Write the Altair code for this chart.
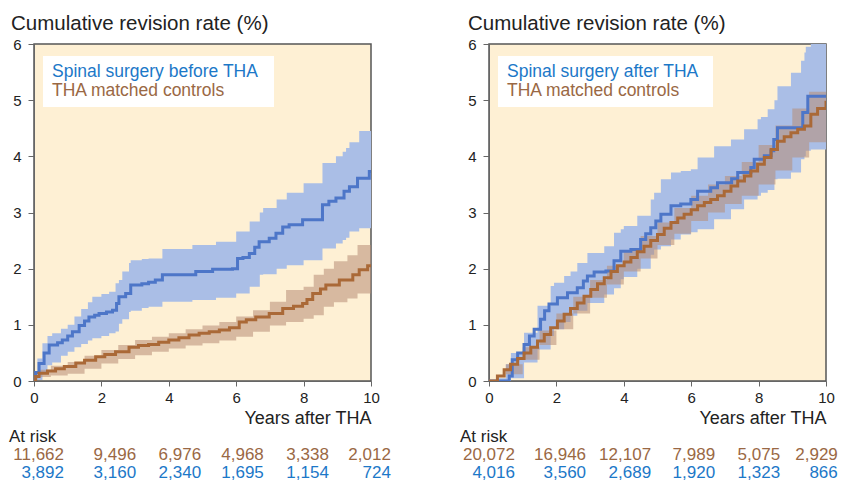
import altair as alt
import pandas as pd

FONT = "Liberation Sans"
BG = "#fef0d4"
BLUE_LINE = "#4d76c8"
BLUE_BAND = "#aabee6"
BROWN_LINE = "#aa6937"
BROWN_BAND = "#b78c75"
BLUE_TEXT = "#1c78c8"
BROWN_TEXT = "#9a6844"
DARK = "#222222"

years_tick = [0, 2, 4, 6, 8, 10]

# ---------------- Left panel: spinal surgery before THA ----------------
L_blue_x = [0, 0.05, 0.15, 0.3, 0.45, 0.7, 0.84, 1.0, 1.14, 1.34, 1.5, 1.63, 1.8, 1.93, 2.15, 2.33,
            2.45, 2.52, 2.72, 2.87, 3.2, 3.4, 3.6, 3.81, 4.6, 4.8, 5.3, 5.89, 6.04, 6.2, 6.39, 6.55,
            6.68, 6.98, 7.18, 7.38, 7.57, 7.97, 8.4, 8.56, 8.75, 8.96, 9.2, 9.36, 9.6, 9.95, 10]
L_blue_y = [0, 0.15, 0.31, 0.5, 0.64, 0.68, 0.73, 0.8, 0.875, 0.99, 1.07, 1.14, 1.17, 1.2, 1.23, 1.26,
            1.38, 1.5, 1.56, 1.71, 1.73, 1.76, 1.8, 1.89, 1.89, 1.95, 1.99, 2.0, 2.18, 2.2, 2.27, 2.38,
            2.48, 2.54, 2.63, 2.74, 2.78, 2.87, 2.87, 3.14, 3.2, 3.26, 3.38, 3.46, 3.61, 3.73, 3.73]

L_bband_x = [0, 0.1, 0.25, 0.4, 0.54, 0.8, 1.0, 1.2, 1.4, 1.6, 1.73, 2.0, 2.23, 2.42, 2.52, 2.62, 2.82,
             2.87, 3.2, 3.4, 3.81, 4.7, 5.4, 6.0, 6.4, 6.7, 6.8, 7.2, 7.5, 8.0, 8.56, 8.96, 9.16, 9.26,
             9.36, 9.65, 10]
L_bband_lo = [0, 0.02, 0.15, 0.28, 0.33, 0.45, 0.52, 0.6, 0.66, 0.72, 0.76, 0.8, 0.85, 0.88, 1.02, 1.1,
              1.23, 1.25, 1.3, 1.32, 1.41, 1.44, 1.48, 1.56, 1.68, 1.89, 1.9, 2.0, 2.06, 2.15, 2.36, 2.45,
              2.51, 2.55, 2.66, 2.72, 2.72]
L_bband_hi = [0, 0.4, 0.67, 0.8, 0.85, 0.93, 1.0, 1.15, 1.28, 1.4, 1.5, 1.55, 1.59, 1.74, 1.8, 1.95,
              2.1, 2.15, 2.17, 2.18, 2.35, 2.42, 2.48, 2.66, 2.84, 3.0, 3.08, 3.23, 3.35, 3.52, 3.88, 4.0,
              4.08, 4.15, 4.25, 4.45, 4.45]

L_brown_x = [0, 0.05, 0.15, 0.4, 0.64, 0.9, 1.24, 1.5, 1.83, 2.1, 2.42, 2.82, 3.1, 3.4, 3.7, 4.0, 4.3,
             4.6, 4.9, 5.2, 5.5, 5.8, 6.09, 6.3, 6.58, 6.98, 7.38, 7.7, 7.97, 8.1, 8.27, 8.5, 8.66,
             9.06, 9.46, 9.65, 9.9, 10]
L_brown_y = [0, 0.08, 0.14, 0.18, 0.22, 0.26, 0.32, 0.37, 0.43, 0.47, 0.52, 0.6, 0.63, 0.65, 0.69, 0.73,
             0.77, 0.82, 0.85, 0.875, 0.91, 0.95, 1.05, 1.09, 1.14, 1.2, 1.29, 1.33, 1.38, 1.45, 1.56,
             1.64, 1.71, 1.8, 1.89, 1.98, 2.05, 2.05]

L_rband_x = [0, 0.15, 0.5, 1.0, 1.5, 2.0, 2.5, 3.0, 3.5, 4.0, 4.5, 5.0, 5.5, 6.0, 6.5, 7.0, 7.48, 8.0,
             8.3, 8.6, 8.9, 9.3, 9.6, 10]
L_rband_lo = [0, 0.07, 0.1, 0.13, 0.22, 0.31, 0.39, 0.46, 0.52, 0.58, 0.63, 0.67, 0.72, 0.79, 0.875,
              0.99, 1.05, 1.11, 1.17, 1.32, 1.4, 1.47, 1.56, 1.65]
L_rband_hi = [0, 0.2, 0.27, 0.34, 0.45, 0.55, 0.64, 0.73, 0.79, 0.85, 0.92, 0.99, 1.05, 1.15, 1.26,
              1.41, 1.62, 1.68, 1.89, 2.0, 2.13, 2.24, 2.42, 2.42]

L_risk_brown = ["11,662", "9,496", "6,976", "4,968", "3,338", "2,012"]
L_risk_blue = ["3,892", "3,160", "2,340", "1,695", "1,154", "724"]

# ---------------- Right panel: spinal surgery after THA ----------------
R_blue_x = [0, 0.54, 0.6, 0.69, 0.85, 1.04, 1.2, 1.34, 1.53, 1.65, 1.78, 2.03, 2.33, 2.62, 2.8, 2.92,
            3.12, 3.47, 3.71, 3.91, 4.21, 4.5, 4.65, 4.8, 4.95, 5.1, 5.4, 5.69, 5.99, 6.19, 6.58, 6.78,
            7.08, 7.2, 7.38, 7.77, 7.87, 8.17, 8.37, 8.45, 8.56, 9.16, 9.31, 9.46, 10]
R_blue_y = [0, 0, 0.09, 0.38, 0.5, 0.65, 0.8, 0.92, 1.1, 1.25, 1.37, 1.48, 1.57, 1.66, 1.78, 1.87,
            1.94, 1.96, 2.14, 2.31, 2.34, 2.52, 2.62, 2.73, 2.85, 2.97, 3.12, 3.15, 3.23, 3.38, 3.44, 3.53,
            3.53, 3.6, 3.71, 3.8, 3.95, 4.01, 4.1, 4.3, 4.51, 4.51, 4.78, 5.07, 5.07]

R_bband_x = [0, 0.25, 0.5, 0.65, 1.04, 1.44, 1.83, 1.93, 2.23, 2.42, 2.62, 2.92, 3.42, 3.71, 3.91, 4.0,
             4.4, 4.8, 4.9, 5.1, 5.4, 5.69, 5.99, 6.19, 6.68, 7.18, 7.57, 7.97, 8.07, 8.27, 8.47, 8.56,
             8.96, 9.26, 9.36, 9.4, 9.55, 10]
R_bband_lo = [0, 0, 0, 0.05, 0.33, 0.56, 0.8, 0.92, 1.05, 1.16, 1.25, 1.39, 1.54, 1.65, 1.81, 1.85,
              2.0, 2.25, 2.34, 2.4, 2.52, 2.61, 2.65, 2.7, 2.88, 3.06, 3.23, 3.3, 3.35, 3.4, 3.59, 3.6,
              3.71, 3.95, 4.0, 4.1, 4.12, 4.12]
R_bband_hi = [0, 0.05, 0.3, 0.5, 0.86, 1.34, 1.69, 1.75, 1.87, 1.95, 2.1, 2.28, 2.4, 2.64, 2.7, 2.76,
              2.94, 3.23, 3.35, 3.59, 3.71, 3.74, 3.77, 3.98, 4.18, 4.3, 4.48, 4.66, 4.7, 4.84, 5.0, 5.25,
              5.49, 5.7, 5.85, 5.95, 6.1, 6.2]

R_brown_x = [0, 0.25, 0.45, 0.64, 0.85, 1.04, 1.24, 1.44, 1.64, 1.83, 2.03, 2.23, 2.42, 2.62, 2.82,
             3.02, 3.22, 3.42, 3.62, 3.81, 4.01, 4.21, 4.4, 4.6, 4.8, 5.0, 5.2, 5.4, 5.6, 5.79, 6.0,
             6.19, 6.39, 6.58, 6.78, 6.98, 7.18, 7.38, 7.58, 7.77, 7.97, 8.17, 8.37, 8.56, 8.76, 8.96,
             9.16, 9.36, 9.55, 9.75, 10]
R_brown_y = [0, 0.09, 0.2, 0.3, 0.4, 0.5, 0.6, 0.71, 0.83, 0.95, 1.07, 1.19, 1.29, 1.39, 1.51, 1.63,
             1.73, 1.84, 1.95, 2.05, 2.12, 2.2, 2.3, 2.4, 2.5, 2.61, 2.72, 2.82, 2.9, 2.97, 3.05, 3.12,
             3.18, 3.23, 3.3, 3.38, 3.47, 3.56, 3.65, 3.74, 3.86, 3.98, 4.12, 4.27, 4.35, 4.42, 4.48,
             4.54, 4.75, 4.85, 4.99]

R_rband_x = [0, 0.5, 1.0, 1.5, 2.0, 2.5, 3.0, 3.5, 4.0, 4.5, 5.0, 5.5, 6.0, 6.5, 7.0, 7.5, 8.0, 8.5,
             9.0, 9.5, 10]
R_rband_lo = [0, 0.12, 0.38, 0.64, 0.92, 1.2, 1.48, 1.72, 1.95, 2.18, 2.42, 2.62, 2.85, 3.0, 3.15, 3.3,
              3.5, 3.75, 3.98, 4.25, 4.51]
R_rband_hi = [0, 0.3, 0.6, 0.9, 1.2, 1.5, 1.8, 2.05, 2.32, 2.58, 2.82, 3.08, 3.3, 3.5, 3.65, 3.9, 4.2,
              4.55, 4.85, 5.15, 5.4]

R_risk_brown = ["20,072", "16,946", "12,107", "7,989", "5,075", "2,929"]
R_risk_blue = ["4,016", "3,560", "2,689", "1,920", "1,323", "866"]

TITLE = "Cumulative revision rate (%)"
XTITLE = "Years after THA"

# right-edge anchors (in axis units) of the at-risk table columns
LEFT_RISK_ANCHOR = [0.89, 3.03, 4.96, 6.82, 8.75, 10.59]
RIGHT_RISK_ANCHOR = [0.77, 2.88, 4.81, 6.71, 8.64, 10.35]


def panel(bx, by, bbx, bblo, bbhi, rx, ry, rbx, rblo, rbhi, blue_label, box_w,
          risk_brown, risk_blue, anchor, atrisk_x, title_dx):
    xs = alt.Scale(domain=[0, 10], nice=False, zero=False)
    ys = alt.Scale(domain=[0, 6], nice=False)
    xax = alt.Axis(values=years_tick, title=XTITLE, format="d", labelFlush=False)
    yax = alt.Axis(values=[0, 1, 2, 3, 4, 5, 6], title=None, format="d", labelFlush=False)

    bband = alt.Chart(pd.DataFrame({"x": bbx, "lo": bblo, "hi": bbhi})).mark_area(
        interpolate="step-after", color=BLUE_BAND, clip=True
    ).encode(x=alt.X("x:Q", scale=xs, axis=xax), y=alt.Y("lo:Q", scale=ys, axis=yax), y2="hi:Q")
    rband = alt.Chart(pd.DataFrame({"x": rbx, "lo": rblo, "hi": rbhi})).mark_area(
        interpolate="step-after", color=BROWN_BAND, opacity=0.55, clip=True
    ).encode(x="x:Q", y="lo:Q", y2="hi:Q")
    bline = alt.Chart(pd.DataFrame({"x": bx, "y": by})).mark_line(
        interpolate="step-after", color=BLUE_LINE, strokeWidth=3, clip=True
    ).encode(x="x:Q", y="y:Q")
    rline = alt.Chart(pd.DataFrame({"x": rx, "y": ry})).mark_line(
        interpolate="step-after", color=BROWN_LINE, strokeWidth=3, clip=True
    ).encode(x="x:Q", y="y:Q")

    one = pd.DataFrame({"a": [0]})
    box = alt.Chart(one).mark_rect(color="white").encode(
        x=alt.value(9), x2=alt.value(9 + box_w), y=alt.value(12), y2=alt.value(63))
    t1 = alt.Chart(one).mark_text(text=blue_label, align="left", baseline="middle", fontSize=17.5,
                                  font=FONT, color=BLUE_TEXT).encode(x=alt.value(18), y=alt.value(28))
    t2 = alt.Chart(one).mark_text(text="THA matched controls", align="left", baseline="middle",
                                  fontSize=17.5, font=FONT, color=BROWN_TEXT).encode(
        x=alt.value(18), y=alt.value(47))

    atrisk = alt.Chart(one).mark_text(text="At risk", align="left", baseline="middle", fontSize=17,
                                      font=FONT, color=DARK).encode(x=alt.value(atrisk_x), y=alt.value(393))
    rb = alt.Chart(pd.DataFrame({"x": anchor, "n": risk_brown})).mark_text(
        align="right", baseline="middle", fontSize=17, font=FONT, color=BROWN_TEXT
    ).encode(x="x:Q", y=alt.value(411), text="n:N")
    rbl = alt.Chart(pd.DataFrame({"x": anchor, "n": risk_blue})).mark_text(
        align="right", baseline="middle", fontSize=17, font=FONT, color=BLUE_TEXT
    ).encode(x="x:Q", y=alt.value(428.5), text="n:N")

    return alt.layer(bband, rband, bline, rline, box, t1, t2, atrisk, rb, rbl).properties(
        width=337, height=337,
        title=alt.TitleParams(TITLE, anchor="start", frame="group", dx=title_dx, fontSize=20.5,
                              fontWeight="normal", font=FONT, color=DARK, offset=3),
    )


left = panel(L_blue_x, L_blue_y, L_bband_x, L_bband_lo, L_bband_hi,
             L_brown_x, L_brown_y, L_rband_x, L_rband_lo, L_rband_hi,
             "Spinal surgery before THA", 231, L_risk_brown, L_risk_blue,
             LEFT_RISK_ANCHOR, -25, -23)
right = panel(R_blue_x, R_blue_y, R_bband_x, R_bband_lo, R_bband_hi,
              R_brown_x, R_brown_y, R_rband_x, R_rband_lo, R_rband_hi,
              "Spinal surgery after THA", 215, R_risk_brown, R_risk_blue,
              RIGHT_RISK_ANCHOR, -29, -21)

chart = alt.hconcat(left, right, spacing=67).properties(
    padding={"left": 0, "top": 4, "right": 0, "bottom": 0}
).configure_view(
    fill=BG, stroke="#555555", strokeWidth=1.5
).configure_axis(
    grid=False, domainColor="#666666", tickColor="#666666", labelColor=DARK, labelFont=FONT,
    titleFont=FONT, labelFontSize=15, titleColor=DARK
).configure_axisY(
    tickSize=6, labelPadding=7
).configure_axisX(
    tickSize=5, labelPadding=4, titleFontSize=18, titleFontWeight="normal", titleAnchor="end",
    titleAlign="right", titlePadding=4
)

chart.save("out.html", embed_options={"renderer": "svg", "actions": False})
